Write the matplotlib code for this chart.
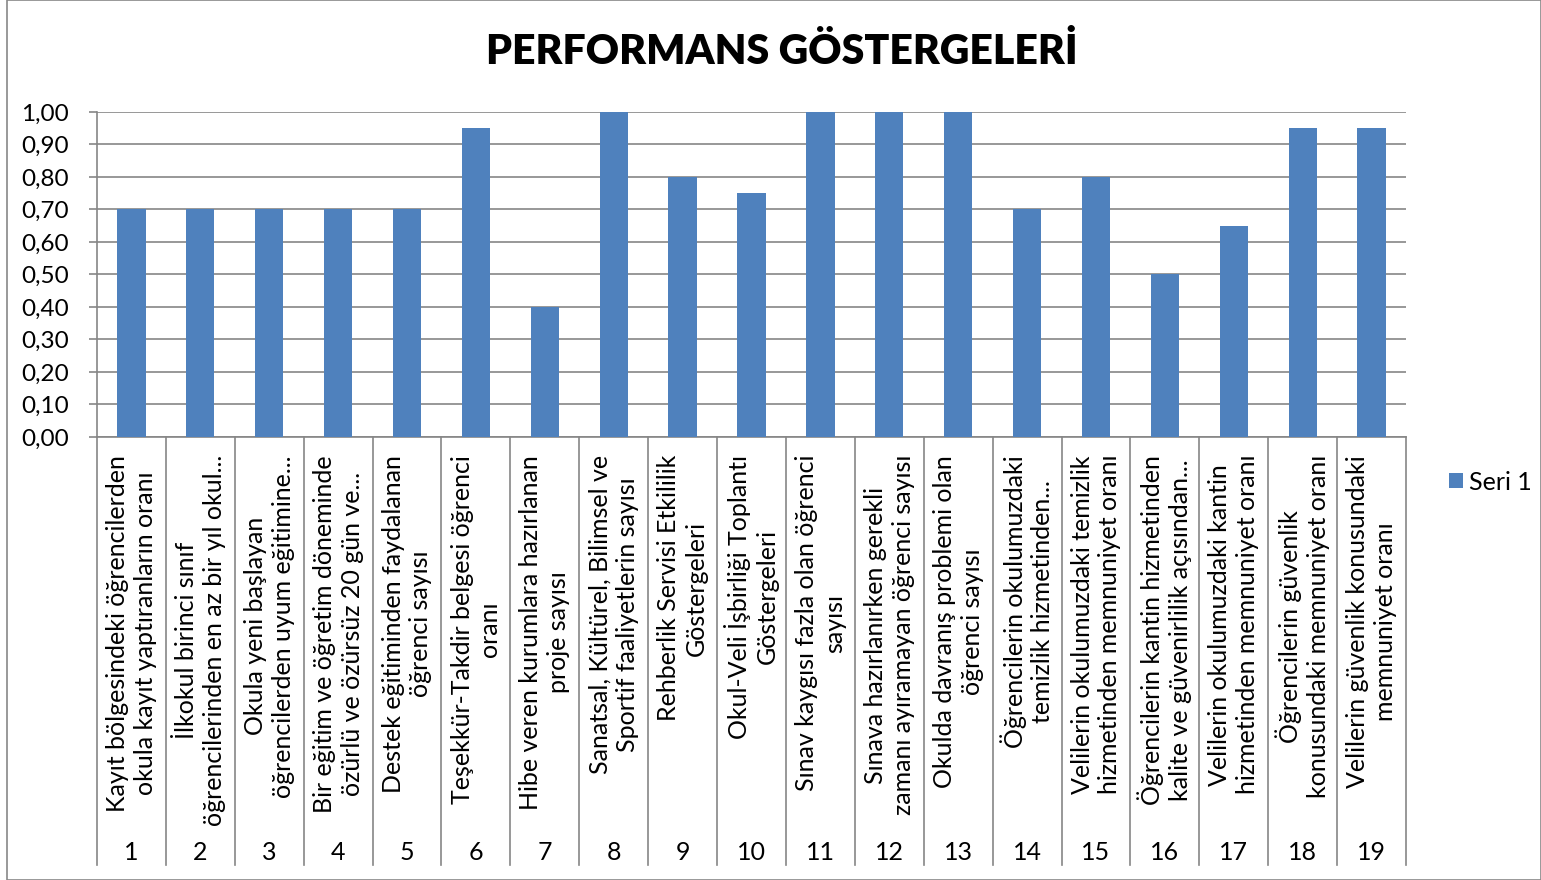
import matplotlib
matplotlib.use("Agg")
import matplotlib.pyplot as plt
from matplotlib.patches import Rectangle
import matplotlib.transforms as mtransforms

plt.rcParams['font.family'] = ['Lato', 'DejaVu Sans']

numbers = [str(i) for i in range(1, 20)]
labels = [
    "Kayıt bölgesindeki öğrencilerden\nokula kayıt yaptıranların oranı",
    "İlkokul birinci sınıf\nöğrencilerinden en az bir yıl okul...",
    "Okula yeni başlayan\nöğrencilerden uyum eğitimine...",
    "Bir eğitim ve öğretim döneminde\nözürlü ve özürsüz 20 gün ve...",
    "Destek eğitiminden faydalanan\nöğrenci sayısı",
    "Teşekkür-Takdir belgesi öğrenci\noranı",
    "Hibe veren kurumlara hazırlanan\nproje sayısı",
    "Sanatsal, Kültürel, Bilimsel ve\nSportif faaliyetlerin sayısı",
    "Rehberlik Servisi Etkililik\nGöstergeleri",
    "Okul-Veli İşbirliği Toplantı\nGöstergeleri",
    "Sınav kaygısı fazla olan öğrenci\nsayısı",
    "Sınava hazırlanırken gerekli\nzamanı ayıramayan öğrenci sayısı",
    "Okulda davranış problemi olan\nöğrenci sayısı",
    "Öğrencilerin okulumuzdaki\ntemizlik hizmetinden...",
    "Velilerin okulumuzdaki temizlik\nhizmetinden memnuniyet oranı",
    "Öğrencilerin kantin hizmetinden\nkalite ve güvenirlilik açısından...",
    "Velilerin okulumuzdaki kantin\nhizmetinden memnuniyet oranı",
    "Öğrencilerin güvenlik\nkonusundaki memnuniyet oranı",
    "Velilerin güvenlik konusundaki\nmemnuniyet oranı",
]
values = [0.70, 0.70, 0.70, 0.70, 0.70, 0.95, 0.40, 1.00, 0.80, 0.75,
          1.00, 1.00, 1.00, 0.70, 0.80, 0.50, 0.65, 0.95, 0.95]
yticks = [0.0, 0.1, 0.2, 0.3, 0.4, 0.5, 0.6, 0.7, 0.8, 0.9, 1.0]
series_name = "Seri 1"
title = "PERFORMANS GÖSTERGELERİ"

W, H = 1541, 880
fig = plt.figure(figsize=(W / 100, H / 100), dpi=100)
fig.patches.append(Rectangle((7 / W, 0), 1 - 7 / W, 1 - 0.5 / H, transform=fig.transFigure,
                             fill=False, edgecolor='#888888', linewidth=1.2))

L, R, T, B = 97, 1406, 112, 437
ax = fig.add_axes([L / W, 1 - B / H, (R - L) / W, (B - T) / H])
grid_c = '#868686'
n = len(values)
x = list(range(n))
ax.bar(x, values, width=0.41, color='#4F81BD', zorder=3, label=series_name)
ax.set_xlim(-0.5, n - 0.5)
ax.set_ylim(0, 1)
ax.set_yticks(yticks)
ax.set_yticklabels([f"{v:.2f}".replace('.', ',') for v in yticks], fontsize=17.5)
ax.yaxis.grid(True, color=grid_c, linewidth=1.2, zorder=0)
ax.tick_params(axis='y', length=6, color=grid_c, width=1.2, pad=14)
ax.set_xticks([])
for s in ['top', 'right']:
    ax.spines[s].set_visible(False)
for s in ['left', 'bottom']:
    ax.spines[s].set_color(grid_c)
    ax.spines[s].set_linewidth(1.2)

ph = B - T
trans = mtransforms.blended_transform_factory(ax.transData, ax.transAxes)
ybot = -(865 - B) / ph
for k in range(n + 1):
    ax.plot([k - 0.5, k - 0.5], [0, ybot], color=grid_c, linewidth=1.2,
            transform=trans, clip_on=False)

ylab = -(455 - B) / ph
ynum = -(852 - B) / ph
for i in range(n):
    ax.text(i, ylab, labels[i], transform=trans, rotation=90, ha='center', va='top',
            multialignment='center', fontsize=18, linespacing=1.25)
    ax.text(i, ynum, numbers[i], transform=trans, ha='center', va='center', fontsize=18)

fig.text(782 / W, 1 - 52 / H, title, ha='center', va='center', fontsize=29.5, fontweight='heavy')

ax.legend(loc='center left', bbox_to_anchor=(1449 / W, 1 - 482 / H),
          bbox_transform=fig.transFigure, frameon=False, fontsize=18,
          handlelength=0.55, handleheight=0.55, handletextpad=0.25, borderpad=0, borderaxespad=0)

fig.savefig('out.png', dpi=100)
